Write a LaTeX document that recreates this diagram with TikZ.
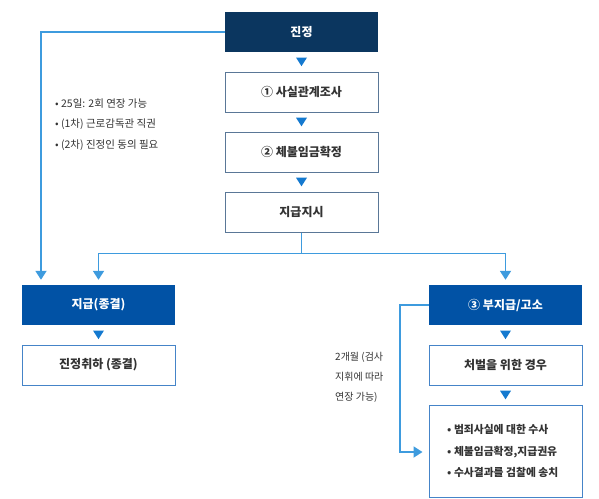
\documentclass[tikz,border=0pt]{standalone}
\usepackage{fontspec}
\setmainfont{Noto Sans CJK KR}
\usetikzlibrary{arrows.meta,calc}
\definecolor{navy}{HTML}{0B365F}
\definecolor{boxblue}{HTML}{0152A5}
\definecolor{linec}{HTML}{3E9BDE}
\definecolor{tric}{HTML}{1479CF}
\definecolor{bordA}{HTML}{5A7797}
\definecolor{bordB}{HTML}{4584C8}
\definecolor{txt}{HTML}{333333}
\newcommand\downtri[1]{\fill[tric] ($(#1)+(-5.5,-4.3)$) -- ($(#1)+(5.5,-4.3)$) -- ($(#1)+(0,4.3)$) -- cycle;}
\begin{document}
\begin{tikzpicture}[x=1pt,y=-1pt,
  basebox/.style={minimum width=153pt,minimum height=40pt,inner sep=0pt,
    font=\bfseries\fontsize{12}{14}\selectfont},
  darkbox/.style={basebox,fill=navy,text=white},
  bluebox/.style={basebox,fill=boxblue,text=white},
  upbox/.style={basebox,draw=bordA,line width=1pt,fill=white,text=txt},
  lowbox/.style={basebox,draw=bordB,line width=1pt,fill=white,text=txt},
  conn/.style={draw=linec,line width=1.8pt},
  arr/.style={conn,-{Triangle[width=11pt,length=9pt]},shorten >=5pt},
  note/.style={font=\fontsize{10.5}{20.5}\selectfont,text=txt,align=left,inner sep=0pt}
]
\useasboundingbox (0,0) rectangle (599,498);

% upper column
\node[darkbox] (jj) at (301.5,32) {진정};
\node[upbox] (s1) at (301.5,92) {① 사실관계조사};
\node[upbox] (s2) at (301.5,152) {② 체불임금확정};
\node[upbox] (s3) at (301.5,212) {지급지시};

% left column
\node[bluebox] (jg) at (98.5,305) {지급(종결)};
\node[lowbox] (wd) at (98.5,365) {진정취하 (종결)};

% right column
\node[bluebox] (bu) at (505.5,305) {③ 부지급/고소};
\node[lowbox] (pu) at (505.5,365) {처벌을 위한 경우};
\node[lowbox,minimum height=92pt] (inv) at (505.5,451) {};
\node[note,anchor=west,font=\bfseries\fontsize{10.8}{21.5}\selectfont] (invt) at (447,451)
  {• 범죄사실에 대한 수사\\• 체불임금확정,지급권유\\• 수사결과를 검찰에 송치};

% notes
\node[note,anchor=west] (n1) at (55,124.5)
  {• 25일: 2회 연장 가능\\• (1차) 근로감독관 직권\\• (2차) 진정인 동의 필요};
\node[note,anchor=west,font=\fontsize{10}{20}\selectfont] (n2) at (335,377)
  {2개월 (검사\\지휘에 따라\\연장 가능)};

% small triangles between stacked boxes
\path (jj.south) -- (s1.north) coordinate[midway] (t1);
\path (s1.south) -- (s2.north) coordinate[midway] (t2);
\path (s2.south) -- (s3.north) coordinate[midway] (t3);
\path (jg.south) -- (wd.north) coordinate[midway] (t4);
\path (bu.south) -- (pu.north) coordinate[midway] (t5);
\path (pu.south) -- (inv.north) coordinate[midway] (t6);
\downtri{t1}\downtri{t2}\downtri{t3}\downtri{t4}\downtri{t5}\downtri{t6}

% connectors
\coordinate (lx) at (41,0);
\draw[arr] (jj.west) -| (lx |- jg.north);
\draw[conn] (s3.south) -- ++(0,21) coordinate (split);
\draw[arr] (split) -| (jg.north);
\draw[arr] (split) -| (bu.north);
\coordinate (rx) at (400,0);
\coordinate (ry) at (0,452);
\draw[arr,shorten >=6pt] (bu.west) -| (rx |- ry) -- (inv.west |- ry);
\end{tikzpicture}
\end{document}
